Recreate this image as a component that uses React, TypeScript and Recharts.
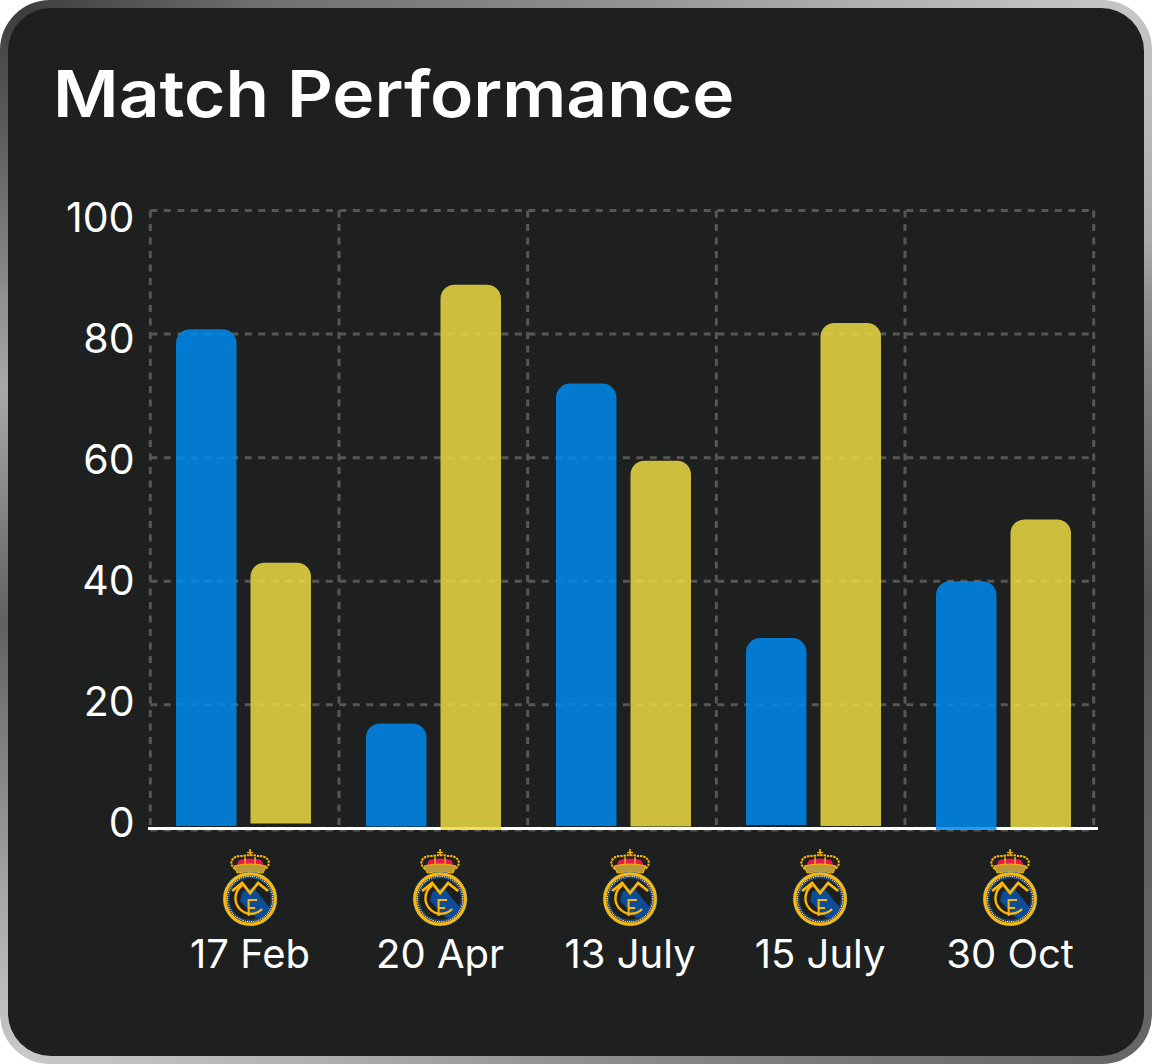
import { Bar, BarChart, CartesianGrid, ReferenceLine, XAxis, YAxis } from "recharts"

const dates = ["17 Feb", "20 Apr", "13 July", "15 July", "30 Oct"]
const blueTop = [80.8, 17, 72, 30.8, 40]
const blueBase = [0.4, 0.3, 0.4, 0.55, -0.25]
const yellowTop = [43, 88, 59.5, 81.8, 50]
const yellowBase = [0.8, -0.25, 0.3, 0.4, 0.25]
const yTicks = [0, 20, 40, 60, 80, 100]

const rows = dates.map((date, i) => ({
    date,
    blue: [blueBase[i], blueTop[i]],
    yellow: [yellowBase[i], yellowTop[i]]
}))

const FONT = "Inter, 'Noto Sans', sans-serif"
const GOLD = "#fbb80a"

function Crest() {
    return (
        <g>
            {/* crown */}
            <line x1={0} y1={-50} x2={0} y2={-40} stroke={GOLD} strokeWidth={1.6} />
            <line x1={-3} y1={-46.5} x2={3} y2={-46.5} stroke={GOLD} strokeWidth={1.2} />
            <path d="M-15 -30 C-23 -36 -17 -44 -8 -43 C-4 -44 4 -44 8 -43 C17 -44 23 -36 15 -30 Z" fill="#1e2020" stroke={GOLD} strokeWidth={2} strokeDasharray="2.4 0.9" />
            <path d="M-11 -39 Q0 -42 11 -39 L14 -33 H-14 Z" fill="#e8194f" />
            <path d="M-5 -42 V-33 M5 -42 V-33" stroke={GOLD} strokeWidth={1.4} />
            <path d="M-16 -33 Q0 -37 16 -33 L13 -26 Q0 -29 -13 -26 Z" fill="#b8983a" stroke={GOLD} strokeWidth={1} />
            {/* ring */}
            <circle r={27.3} fill="#1c6cb8" />
            <circle r={25.2} fill="#1e2020" stroke={GOLD} strokeWidth={3.2} />
            <circle r={22.7} fill="none" stroke="#e8eef6" strokeWidth={1.1} strokeDasharray="1.4 0.8" />
            <circle r={21.4} fill="#1e2020" stroke="#1c6cb8" strokeWidth={0.8} />
            {/* band */}
            <path d="M-8 -7 L3 -12 L20 9 L12 18 L6 19 L-10 2 Z" fill="#0d4c97" />
            {/* C, M, F */}
            <path d="M-8 -13.5 A15.5 15.5 0 1 0 12 10" fill="none" stroke={GOLD} strokeWidth={2.4} />
            <path d="M-18 -8 L-8 -16 L0 -6 L8 -16 L18 -8" fill="none" stroke={GOLD} strokeWidth={2.8} />
            <path d="M-1.5 17 V1 H7 M-1.5 9 H5" fill="none" stroke={GOLD} strokeWidth={2} />
        </g>
    )
}

function DateTick({ x, y, payload }: any) {
    const cx = x + 7.1
    return (
        <g>
            <g transform={`translate(${cx},${y + 61})`}>
                <Crest />
            </g>
            <text x={cx} y={y + 130} textAnchor="middle" fontFamily={FONT} fontSize={40} fill="#fff">
                {payload.value}
            </text>
        </g>
    )
}

function ValueTick({ x, y, payload }: any) {
    const shift = payload.value * 0.12 - 5.5
    return (
        <text x={x - 7.5} y={y + shift + 14.5} textAnchor="end" fontFamily={FONT} fontSize={41} fill="#fff">
            {payload.value}
        </text>
    )
}

export default function App() {
    return (
        <div
            style={{
                position: "absolute",
                left: 0,
                top: 0,
                width: 1152,
                height: 1064,
                boxSizing: "border-box",
                padding: 8,
                borderRadius: 50,
                background:
                    "conic-gradient(#8c8c8c 0deg, #c6c6c6 47deg, #aaaaaa 63deg, #909090 68deg, #787878 77deg, #505050 97deg, #606060 115deg, #666666 133deg, #909090 180deg, #c8c8c8 227deg, #a8a8a8 237deg, #8c8c8c 245deg, #606060 261deg, #a8a8a8 284deg, #909090 292deg, #555555 307deg, #3c3e3e 313deg, #707070 329deg, #8c8c8c 360deg)"
            }}
        >
            <div style={{ position: "relative", width: 1136, height: 1048, borderRadius: 43, background: "#1e2020" }}>
                <div
                    style={{
                        position: "absolute",
                        left: 45,
                        top: 46,
                        fontFamily: FONT,
                        fontWeight: 600,
                        fontSize: 65,
                        lineHeight: "80px",
                        color: "#fff",
                        whiteSpace: "nowrap",
                        transform: "scaleX(1.095)",
                        transformOrigin: "left center"
                    }}
                >
                    Match Performance
                </div>
                <div style={{ position: "absolute", left: -8, top: -8 }}>
                    <BarChart
                        width={1152}
                        height={1064}
                        data={rows}
                        barSize={60.5}
                        barGap={14}
                        margin={{ top: 210.5, right: 54, bottom: 134, left: 0 }}
                    >
                        <CartesianGrid
                            stroke="#565656"
                            strokeWidth={3}
                            strokeDasharray="7 6.5"
                            x={150.3}
                            width={943.4}
                            verticalPoints={[150.3, 339, 527.7, 716.3, 905, 1093.7]}
                        />
                        <XAxis dataKey="date" axisLine={false} tickLine={false} height={100} interval={0} tick={<DateTick />} />
                        <YAxis
                            width={148}
                            domain={[-0.25, 100]}
                            ticks={yTicks}
                            axisLine={false}
                            tickLine={false}
                            tickMargin={0}
                            tick={<ValueTick />}
                        />
                        <ReferenceLine y={0} stroke="#ffffff" strokeWidth={3} {...({ zIndex: 50 } as any)} />
                        <Bar dataKey="blue" fill="#0089f0" fillOpacity={0.85} radius={[14, 14, 0, 0]} isAnimationActive={false} />
                        <Bar dataKey="yellow" fill="#ecdb44" fillOpacity={0.85} radius={[14, 14, 0, 0]} isAnimationActive={false} />
                    </BarChart>
                </div>
            </div>
        </div>
    )
}
